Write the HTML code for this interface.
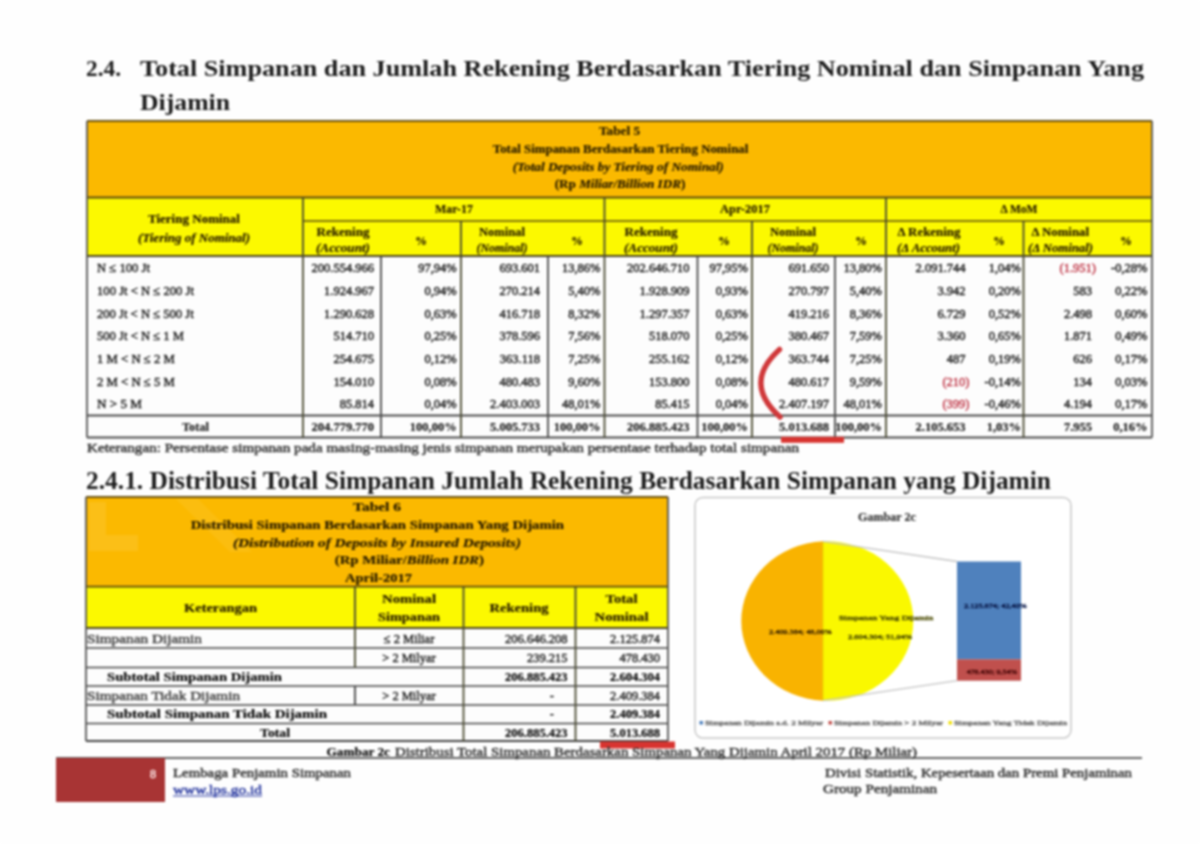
<!DOCTYPE html>
<html><head><meta charset="utf-8"><title>LPS</title>
<style>
html,body{margin:0;padding:0;background:#fff;}
body{width:1200px;height:844px;overflow:hidden;}
svg{display:block;font-family:"Liberation Serif",serif;filter:blur(0.8px);}
</style></head><body>
<svg width="1200" height="844" viewBox="0 0 1200 844">
<rect x="0" y="0" width="1200" height="844" fill="#fefefe"/>
<text x="86" y="76" font-size="24" font-weight="bold" fill="#1c1c1c" textLength="35" lengthAdjust="spacingAndGlyphs">2.4.</text>
<text x="140" y="76" font-size="24" font-weight="bold" fill="#1c1c1c" textLength="1004" lengthAdjust="spacingAndGlyphs">Total Simpanan dan Jumlah Rekening Berdasarkan Tiering Nominal dan Simpanan Yang</text>
<text x="140" y="110" font-size="24" font-weight="bold" fill="#1c1c1c" textLength="90" lengthAdjust="spacingAndGlyphs">Dijamin</text>
<rect x="87" y="121" width="1065" height="76.5" fill="#FBB900"/>
<rect x="87" y="197.5" width="1065" height="58.5" fill="#FCF900"/>
<rect x="87" y="256" width="1065" height="181.5" fill="#fdfdfd"/>
<text x="619.5" y="134.8" font-size="12" font-weight="bold" fill="#261a00" text-anchor="middle" textLength="41" lengthAdjust="spacingAndGlyphs" stroke="#261a00" stroke-width="0.2">Tabel 5</text>
<text x="492.8" y="153" font-size="12" font-weight="bold" fill="#261a00" textLength="255.5" lengthAdjust="spacingAndGlyphs" stroke="#261a00" stroke-width="0.2">Total Simpanan Berdasarkan Tiering Nominal</text>
<text x="512.7" y="170.5" font-size="12" font-weight="bold" font-style="italic" fill="#261a00" textLength="211.1" lengthAdjust="spacingAndGlyphs" stroke="#261a00" stroke-width="0.2">(Total Deposits by Tiering of Nominal)</text>
<text x="554.7" y="187.5" font-size="12" font-weight="bold" fill="#261a00" textLength="130.6" lengthAdjust="spacingAndGlyphs" stroke="#261a00" stroke-width="0.2">(Rp <tspan font-style="italic">Miliar/Billion IDR</tspan>)</text>
<text x="148" y="223" font-size="12" font-weight="bold" fill="#261a00" textLength="92" lengthAdjust="spacingAndGlyphs" stroke="#261a00" stroke-width="0.2">Tiering Nominal</text>
<text x="138" y="241.5" font-size="12" font-weight="bold" font-style="italic" fill="#261a00" textLength="112" lengthAdjust="spacingAndGlyphs" stroke="#261a00" stroke-width="0.2">(Tiering of Nominal)</text>
<text x="454" y="213.3" font-size="12" font-weight="bold" fill="#261a00" text-anchor="middle" textLength="38" lengthAdjust="spacingAndGlyphs" stroke="#261a00" stroke-width="0.2">Mar-17</text>
<text x="745" y="213.3" font-size="12" font-weight="bold" fill="#261a00" text-anchor="middle" textLength="50" lengthAdjust="spacingAndGlyphs" stroke="#261a00" stroke-width="0.2">Apr-2017</text>
<text x="1019" y="213.3" font-size="12" font-weight="bold" fill="#261a00" text-anchor="middle" textLength="37" lengthAdjust="spacingAndGlyphs" stroke="#261a00" stroke-width="0.2">Δ MoM</text>
<text x="343" y="235.8" font-size="12" font-weight="bold" fill="#261a00" text-anchor="middle" textLength="53" lengthAdjust="spacingAndGlyphs" stroke="#261a00" stroke-width="0.2">Rekening</text>
<text x="343" y="251.5" font-size="12" font-weight="bold" font-style="italic" fill="#261a00" text-anchor="middle" textLength="54" lengthAdjust="spacingAndGlyphs" stroke="#261a00" stroke-width="0.2">(Account)</text>
<text x="421" y="244.5" font-size="12" font-weight="bold" fill="#261a00" text-anchor="middle" stroke="#261a00" stroke-width="0.2">%</text>
<text x="502" y="235.8" font-size="12" font-weight="bold" fill="#261a00" text-anchor="middle" textLength="46" lengthAdjust="spacingAndGlyphs" stroke="#261a00" stroke-width="0.2">Nominal</text>
<text x="502" y="251.5" font-size="12" font-weight="bold" font-style="italic" fill="#261a00" text-anchor="middle" textLength="51" lengthAdjust="spacingAndGlyphs" stroke="#261a00" stroke-width="0.2">(Nominal)</text>
<text x="577" y="244.5" font-size="12" font-weight="bold" fill="#261a00" text-anchor="middle" stroke="#261a00" stroke-width="0.2">%</text>
<text x="651" y="235.8" font-size="12" font-weight="bold" fill="#261a00" text-anchor="middle" textLength="53" lengthAdjust="spacingAndGlyphs" stroke="#261a00" stroke-width="0.2">Rekening</text>
<text x="651" y="251.5" font-size="12" font-weight="bold" font-style="italic" fill="#261a00" text-anchor="middle" textLength="54" lengthAdjust="spacingAndGlyphs" stroke="#261a00" stroke-width="0.2">(Account)</text>
<text x="724" y="244.5" font-size="12" font-weight="bold" fill="#261a00" text-anchor="middle" stroke="#261a00" stroke-width="0.2">%</text>
<text x="793" y="235.8" font-size="12" font-weight="bold" fill="#261a00" text-anchor="middle" textLength="46" lengthAdjust="spacingAndGlyphs" stroke="#261a00" stroke-width="0.2">Nominal</text>
<text x="793" y="251.5" font-size="12" font-weight="bold" font-style="italic" fill="#261a00" text-anchor="middle" textLength="51" lengthAdjust="spacingAndGlyphs" stroke="#261a00" stroke-width="0.2">(Nominal)</text>
<text x="861" y="244.5" font-size="12" font-weight="bold" fill="#261a00" text-anchor="middle" stroke="#261a00" stroke-width="0.2">%</text>
<text x="897.5" y="235.8" font-size="12" font-weight="bold" fill="#261a00" textLength="63.0" lengthAdjust="spacingAndGlyphs" stroke="#261a00" stroke-width="0.2">Δ Rekening</text>
<text x="897" y="251.5" font-size="12" font-weight="bold" font-style="italic" fill="#261a00" textLength="63" lengthAdjust="spacingAndGlyphs" stroke="#261a00" stroke-width="0.2">(Δ Account)</text>
<text x="999" y="244.5" font-size="12" font-weight="bold" fill="#261a00" text-anchor="middle" stroke="#261a00" stroke-width="0.2">%</text>
<text x="1031.5" y="235.8" font-size="12" font-weight="bold" fill="#261a00" textLength="57.5" lengthAdjust="spacingAndGlyphs" stroke="#261a00" stroke-width="0.2">Δ Nominal</text>
<text x="1028" y="251.5" font-size="12" font-weight="bold" font-style="italic" fill="#261a00" textLength="65" lengthAdjust="spacingAndGlyphs" stroke="#261a00" stroke-width="0.2">(Δ Nominal)</text>
<text x="1126" y="244.5" font-size="12" font-weight="bold" fill="#261a00" text-anchor="middle" stroke="#261a00" stroke-width="0.2">%</text>
<text x="97" y="272.3" font-size="12.5" fill="#262626" textLength="53" lengthAdjust="spacingAndGlyphs" stroke="#262626" stroke-width="0.45">N ≤ 100 Jt</text>
<text x="97" y="294.97" font-size="12.5" fill="#262626" textLength="97" lengthAdjust="spacingAndGlyphs" stroke="#262626" stroke-width="0.45">100 Jt &lt; N ≤ 200 Jt</text>
<text x="97" y="317.64" font-size="12.5" fill="#262626" textLength="96.7" lengthAdjust="spacingAndGlyphs" stroke="#262626" stroke-width="0.45">200 Jt &lt; N ≤ 500 Jt</text>
<text x="97" y="340.31" font-size="12.5" fill="#262626" textLength="87" lengthAdjust="spacingAndGlyphs" stroke="#262626" stroke-width="0.45">500 Jt &lt; N ≤ 1 M</text>
<text x="97" y="362.98" font-size="12.5" fill="#262626" textLength="77.8" lengthAdjust="spacingAndGlyphs" stroke="#262626" stroke-width="0.45">1 M &lt; N ≤ 2 M</text>
<text x="97" y="385.65000000000003" font-size="12.5" fill="#262626" textLength="77.8" lengthAdjust="spacingAndGlyphs" stroke="#262626" stroke-width="0.45">2 M &lt; N ≤ 5 M</text>
<text x="97" y="408.32000000000005" font-size="12.5" fill="#262626" textLength="45" lengthAdjust="spacingAndGlyphs" stroke="#262626" stroke-width="0.45">N &gt; 5 M</text>
<text x="374" y="272.3" font-size="12.5" fill="#1c1c1c" text-anchor="end" stroke="#1c1c1c" stroke-width="0.45">200.554.966</text>
<text x="374" y="294.97" font-size="12.5" fill="#1c1c1c" text-anchor="end" stroke="#1c1c1c" stroke-width="0.45">1.924.967</text>
<text x="374" y="317.64" font-size="12.5" fill="#1c1c1c" text-anchor="end" stroke="#1c1c1c" stroke-width="0.45">1.290.628</text>
<text x="374" y="340.31" font-size="12.5" fill="#1c1c1c" text-anchor="end" stroke="#1c1c1c" stroke-width="0.45">514.710</text>
<text x="374" y="362.98" font-size="12.5" fill="#1c1c1c" text-anchor="end" stroke="#1c1c1c" stroke-width="0.45">254.675</text>
<text x="374" y="385.65000000000003" font-size="12.5" fill="#1c1c1c" text-anchor="end" stroke="#1c1c1c" stroke-width="0.45">154.010</text>
<text x="374" y="408.32000000000005" font-size="12.5" fill="#1c1c1c" text-anchor="end" stroke="#1c1c1c" stroke-width="0.45">85.814</text>
<text x="374" y="430.8" font-size="12.5" font-weight="bold" fill="#1e1e1e" text-anchor="end" stroke="#1e1e1e" stroke-width="0.2">204.779.770</text>
<text x="456.7" y="272.3" font-size="12.5" fill="#1c1c1c" text-anchor="end" stroke="#1c1c1c" stroke-width="0.45">97,94%</text>
<text x="456.7" y="294.97" font-size="12.5" fill="#1c1c1c" text-anchor="end" stroke="#1c1c1c" stroke-width="0.45">0,94%</text>
<text x="456.7" y="317.64" font-size="12.5" fill="#1c1c1c" text-anchor="end" stroke="#1c1c1c" stroke-width="0.45">0,63%</text>
<text x="456.7" y="340.31" font-size="12.5" fill="#1c1c1c" text-anchor="end" stroke="#1c1c1c" stroke-width="0.45">0,25%</text>
<text x="456.7" y="362.98" font-size="12.5" fill="#1c1c1c" text-anchor="end" stroke="#1c1c1c" stroke-width="0.45">0,12%</text>
<text x="456.7" y="385.65000000000003" font-size="12.5" fill="#1c1c1c" text-anchor="end" stroke="#1c1c1c" stroke-width="0.45">0,08%</text>
<text x="456.7" y="408.32000000000005" font-size="12.5" fill="#1c1c1c" text-anchor="end" stroke="#1c1c1c" stroke-width="0.45">0,04%</text>
<text x="456.7" y="430.8" font-size="12.5" font-weight="bold" fill="#1e1e1e" text-anchor="end" stroke="#1e1e1e" stroke-width="0.2">100,00%</text>
<text x="540" y="272.3" font-size="12.5" fill="#1c1c1c" text-anchor="end" stroke="#1c1c1c" stroke-width="0.45">693.601</text>
<text x="540" y="294.97" font-size="12.5" fill="#1c1c1c" text-anchor="end" stroke="#1c1c1c" stroke-width="0.45">270.214</text>
<text x="540" y="317.64" font-size="12.5" fill="#1c1c1c" text-anchor="end" stroke="#1c1c1c" stroke-width="0.45">416.718</text>
<text x="540" y="340.31" font-size="12.5" fill="#1c1c1c" text-anchor="end" stroke="#1c1c1c" stroke-width="0.45">378.596</text>
<text x="540" y="362.98" font-size="12.5" fill="#1c1c1c" text-anchor="end" stroke="#1c1c1c" stroke-width="0.45">363.118</text>
<text x="540" y="385.65000000000003" font-size="12.5" fill="#1c1c1c" text-anchor="end" stroke="#1c1c1c" stroke-width="0.45">480.483</text>
<text x="540" y="408.32000000000005" font-size="12.5" fill="#1c1c1c" text-anchor="end" stroke="#1c1c1c" stroke-width="0.45">2.403.003</text>
<text x="540" y="430.8" font-size="12.5" font-weight="bold" fill="#1e1e1e" text-anchor="end" stroke="#1e1e1e" stroke-width="0.2">5.005.733</text>
<text x="600.5" y="272.3" font-size="12.5" fill="#1c1c1c" text-anchor="end" stroke="#1c1c1c" stroke-width="0.45">13,86%</text>
<text x="600.5" y="294.97" font-size="12.5" fill="#1c1c1c" text-anchor="end" stroke="#1c1c1c" stroke-width="0.45">5,40%</text>
<text x="600.5" y="317.64" font-size="12.5" fill="#1c1c1c" text-anchor="end" stroke="#1c1c1c" stroke-width="0.45">8,32%</text>
<text x="600.5" y="340.31" font-size="12.5" fill="#1c1c1c" text-anchor="end" stroke="#1c1c1c" stroke-width="0.45">7,56%</text>
<text x="600.5" y="362.98" font-size="12.5" fill="#1c1c1c" text-anchor="end" stroke="#1c1c1c" stroke-width="0.45">7,25%</text>
<text x="600.5" y="385.65000000000003" font-size="12.5" fill="#1c1c1c" text-anchor="end" stroke="#1c1c1c" stroke-width="0.45">9,60%</text>
<text x="600.5" y="408.32000000000005" font-size="12.5" fill="#1c1c1c" text-anchor="end" stroke="#1c1c1c" stroke-width="0.45">48,01%</text>
<text x="600.5" y="430.8" font-size="12.5" font-weight="bold" fill="#1e1e1e" text-anchor="end" stroke="#1e1e1e" stroke-width="0.2">100,00%</text>
<text x="689.5" y="272.3" font-size="12.5" fill="#1c1c1c" text-anchor="end" stroke="#1c1c1c" stroke-width="0.45">202.646.710</text>
<text x="689.5" y="294.97" font-size="12.5" fill="#1c1c1c" text-anchor="end" stroke="#1c1c1c" stroke-width="0.45">1.928.909</text>
<text x="689.5" y="317.64" font-size="12.5" fill="#1c1c1c" text-anchor="end" stroke="#1c1c1c" stroke-width="0.45">1.297.357</text>
<text x="689.5" y="340.31" font-size="12.5" fill="#1c1c1c" text-anchor="end" stroke="#1c1c1c" stroke-width="0.45">518.070</text>
<text x="689.5" y="362.98" font-size="12.5" fill="#1c1c1c" text-anchor="end" stroke="#1c1c1c" stroke-width="0.45">255.162</text>
<text x="689.5" y="385.65000000000003" font-size="12.5" fill="#1c1c1c" text-anchor="end" stroke="#1c1c1c" stroke-width="0.45">153.800</text>
<text x="689.5" y="408.32000000000005" font-size="12.5" fill="#1c1c1c" text-anchor="end" stroke="#1c1c1c" stroke-width="0.45">85.415</text>
<text x="689.5" y="430.8" font-size="12.5" font-weight="bold" fill="#1e1e1e" text-anchor="end" stroke="#1e1e1e" stroke-width="0.2">206.885.423</text>
<text x="748" y="272.3" font-size="12.5" fill="#1c1c1c" text-anchor="end" stroke="#1c1c1c" stroke-width="0.45">97,95%</text>
<text x="748" y="294.97" font-size="12.5" fill="#1c1c1c" text-anchor="end" stroke="#1c1c1c" stroke-width="0.45">0,93%</text>
<text x="748" y="317.64" font-size="12.5" fill="#1c1c1c" text-anchor="end" stroke="#1c1c1c" stroke-width="0.45">0,63%</text>
<text x="748" y="340.31" font-size="12.5" fill="#1c1c1c" text-anchor="end" stroke="#1c1c1c" stroke-width="0.45">0,25%</text>
<text x="748" y="362.98" font-size="12.5" fill="#1c1c1c" text-anchor="end" stroke="#1c1c1c" stroke-width="0.45">0,12%</text>
<text x="748" y="385.65000000000003" font-size="12.5" fill="#1c1c1c" text-anchor="end" stroke="#1c1c1c" stroke-width="0.45">0,08%</text>
<text x="748" y="408.32000000000005" font-size="12.5" fill="#1c1c1c" text-anchor="end" stroke="#1c1c1c" stroke-width="0.45">0,04%</text>
<text x="748" y="430.8" font-size="12.5" font-weight="bold" fill="#1e1e1e" text-anchor="end" stroke="#1e1e1e" stroke-width="0.2">100,00%</text>
<text x="829" y="272.3" font-size="12.5" fill="#1c1c1c" text-anchor="end" stroke="#1c1c1c" stroke-width="0.45">691.650</text>
<text x="829" y="294.97" font-size="12.5" fill="#1c1c1c" text-anchor="end" stroke="#1c1c1c" stroke-width="0.45">270.797</text>
<text x="829" y="317.64" font-size="12.5" fill="#1c1c1c" text-anchor="end" stroke="#1c1c1c" stroke-width="0.45">419.216</text>
<text x="829" y="340.31" font-size="12.5" fill="#1c1c1c" text-anchor="end" stroke="#1c1c1c" stroke-width="0.45">380.467</text>
<text x="829" y="362.98" font-size="12.5" fill="#1c1c1c" text-anchor="end" stroke="#1c1c1c" stroke-width="0.45">363.744</text>
<text x="829" y="385.65000000000003" font-size="12.5" fill="#1c1c1c" text-anchor="end" stroke="#1c1c1c" stroke-width="0.45">480.617</text>
<text x="829" y="408.32000000000005" font-size="12.5" fill="#1c1c1c" text-anchor="end" stroke="#1c1c1c" stroke-width="0.45">2.407.197</text>
<text x="829" y="430.8" font-size="12.5" font-weight="bold" fill="#1e1e1e" text-anchor="end" stroke="#1e1e1e" stroke-width="0.2">5.013.688</text>
<text x="882" y="272.3" font-size="12.5" fill="#1c1c1c" text-anchor="end" stroke="#1c1c1c" stroke-width="0.45">13,80%</text>
<text x="882" y="294.97" font-size="12.5" fill="#1c1c1c" text-anchor="end" stroke="#1c1c1c" stroke-width="0.45">5,40%</text>
<text x="882" y="317.64" font-size="12.5" fill="#1c1c1c" text-anchor="end" stroke="#1c1c1c" stroke-width="0.45">8,36%</text>
<text x="882" y="340.31" font-size="12.5" fill="#1c1c1c" text-anchor="end" stroke="#1c1c1c" stroke-width="0.45">7,59%</text>
<text x="882" y="362.98" font-size="12.5" fill="#1c1c1c" text-anchor="end" stroke="#1c1c1c" stroke-width="0.45">7,25%</text>
<text x="882" y="385.65000000000003" font-size="12.5" fill="#1c1c1c" text-anchor="end" stroke="#1c1c1c" stroke-width="0.45">9,59%</text>
<text x="882" y="408.32000000000005" font-size="12.5" fill="#1c1c1c" text-anchor="end" stroke="#1c1c1c" stroke-width="0.45">48,01%</text>
<text x="882" y="430.8" font-size="12.5" font-weight="bold" fill="#1e1e1e" text-anchor="end" stroke="#1e1e1e" stroke-width="0.2">100,00%</text>
<text x="965.5" y="272.3" font-size="12.5" fill="#1c1c1c" text-anchor="end" stroke="#1c1c1c" stroke-width="0.45">2.091.744</text>
<text x="965.5" y="294.97" font-size="12.5" fill="#1c1c1c" text-anchor="end" stroke="#1c1c1c" stroke-width="0.45">3.942</text>
<text x="965.5" y="317.64" font-size="12.5" fill="#1c1c1c" text-anchor="end" stroke="#1c1c1c" stroke-width="0.45">6.729</text>
<text x="965.5" y="340.31" font-size="12.5" fill="#1c1c1c" text-anchor="end" stroke="#1c1c1c" stroke-width="0.45">3.360</text>
<text x="965.5" y="362.98" font-size="12.5" fill="#1c1c1c" text-anchor="end" stroke="#1c1c1c" stroke-width="0.45">487</text>
<text x="969.5" y="385.65000000000003" font-size="12.5" fill="#c03a4a" text-anchor="end" stroke="#c03a4a" stroke-width="0.45">(210)</text>
<text x="969.5" y="408.32000000000005" font-size="12.5" fill="#c03a4a" text-anchor="end" stroke="#c03a4a" stroke-width="0.45">(399)</text>
<text x="965.5" y="430.8" font-size="12.5" font-weight="bold" fill="#1e1e1e" text-anchor="end" stroke="#1e1e1e" stroke-width="0.2">2.105.653</text>
<text x="1021" y="272.3" font-size="12.5" fill="#1c1c1c" text-anchor="end" stroke="#1c1c1c" stroke-width="0.45">1,04%</text>
<text x="1021" y="294.97" font-size="12.5" fill="#1c1c1c" text-anchor="end" stroke="#1c1c1c" stroke-width="0.45">0,20%</text>
<text x="1021" y="317.64" font-size="12.5" fill="#1c1c1c" text-anchor="end" stroke="#1c1c1c" stroke-width="0.45">0,52%</text>
<text x="1021" y="340.31" font-size="12.5" fill="#1c1c1c" text-anchor="end" stroke="#1c1c1c" stroke-width="0.45">0,65%</text>
<text x="1021" y="362.98" font-size="12.5" fill="#1c1c1c" text-anchor="end" stroke="#1c1c1c" stroke-width="0.45">0,19%</text>
<text x="1021" y="385.65000000000003" font-size="12.5" fill="#1c1c1c" text-anchor="end" stroke="#1c1c1c" stroke-width="0.45">-0,14%</text>
<text x="1021" y="408.32000000000005" font-size="12.5" fill="#1c1c1c" text-anchor="end" stroke="#1c1c1c" stroke-width="0.45">-0,46%</text>
<text x="1021" y="430.8" font-size="12.5" font-weight="bold" fill="#1e1e1e" text-anchor="end" stroke="#1e1e1e" stroke-width="0.2">1,03%</text>
<text x="1096" y="272.3" font-size="12.5" fill="#c03a4a" text-anchor="end" stroke="#c03a4a" stroke-width="0.45">(1.951)</text>
<text x="1092" y="294.97" font-size="12.5" fill="#1c1c1c" text-anchor="end" stroke="#1c1c1c" stroke-width="0.45">583</text>
<text x="1092" y="317.64" font-size="12.5" fill="#1c1c1c" text-anchor="end" stroke="#1c1c1c" stroke-width="0.45">2.498</text>
<text x="1092" y="340.31" font-size="12.5" fill="#1c1c1c" text-anchor="end" stroke="#1c1c1c" stroke-width="0.45">1.871</text>
<text x="1092" y="362.98" font-size="12.5" fill="#1c1c1c" text-anchor="end" stroke="#1c1c1c" stroke-width="0.45">626</text>
<text x="1092" y="385.65000000000003" font-size="12.5" fill="#1c1c1c" text-anchor="end" stroke="#1c1c1c" stroke-width="0.45">134</text>
<text x="1092" y="408.32000000000005" font-size="12.5" fill="#1c1c1c" text-anchor="end" stroke="#1c1c1c" stroke-width="0.45">4.194</text>
<text x="1092" y="430.8" font-size="12.5" font-weight="bold" fill="#1e1e1e" text-anchor="end" stroke="#1e1e1e" stroke-width="0.2">7.955</text>
<text x="1147.5" y="272.3" font-size="12.5" fill="#1c1c1c" text-anchor="end" stroke="#1c1c1c" stroke-width="0.45">-0,28%</text>
<text x="1147.5" y="294.97" font-size="12.5" fill="#1c1c1c" text-anchor="end" stroke="#1c1c1c" stroke-width="0.45">0,22%</text>
<text x="1147.5" y="317.64" font-size="12.5" fill="#1c1c1c" text-anchor="end" stroke="#1c1c1c" stroke-width="0.45">0,60%</text>
<text x="1147.5" y="340.31" font-size="12.5" fill="#1c1c1c" text-anchor="end" stroke="#1c1c1c" stroke-width="0.45">0,49%</text>
<text x="1147.5" y="362.98" font-size="12.5" fill="#1c1c1c" text-anchor="end" stroke="#1c1c1c" stroke-width="0.45">0,17%</text>
<text x="1147.5" y="385.65000000000003" font-size="12.5" fill="#1c1c1c" text-anchor="end" stroke="#1c1c1c" stroke-width="0.45">0,03%</text>
<text x="1147.5" y="408.32000000000005" font-size="12.5" fill="#1c1c1c" text-anchor="end" stroke="#1c1c1c" stroke-width="0.45">0,17%</text>
<text x="1147.5" y="430.8" font-size="12.5" font-weight="bold" fill="#1e1e1e" text-anchor="end" stroke="#1e1e1e" stroke-width="0.2">0,16%</text>
<text x="182" y="430.8" font-size="12.5" font-weight="bold" fill="#1e1e1e" textLength="27" lengthAdjust="spacingAndGlyphs" stroke="#1e1e1e" stroke-width="0.2">Total</text>
<line x1="87" y1="121" x2="1152" y2="121" stroke="#6b5212" stroke-width="2"/>
<line x1="87" y1="197.5" x2="1152" y2="197.5" stroke="#5a4a10" stroke-width="1.8"/>
<line x1="303" y1="221" x2="1152" y2="221" stroke="#5a4a10" stroke-width="1.6"/>
<line x1="87" y1="256" x2="1152" y2="256" stroke="#4a4220" stroke-width="1.8"/>
<line x1="87" y1="415.5" x2="1152" y2="415.5" stroke="#4a4a4a" stroke-width="1.8"/>
<line x1="87" y1="437.5" x2="1152" y2="437.5" stroke="#4a4a4a" stroke-width="1.8"/>
<line x1="87" y1="121" x2="87" y2="437.5" stroke="#555" stroke-width="1.8"/>
<line x1="1152" y1="121" x2="1152" y2="437.5" stroke="#555" stroke-width="1.8"/>
<line x1="303" y1="197.5" x2="303" y2="437.5" stroke="#4a4a30" stroke-width="1.8"/>
<line x1="604.5" y1="197.5" x2="604.5" y2="437.5" stroke="#4a4a30" stroke-width="1.8"/>
<line x1="886" y1="197.5" x2="886" y2="437.5" stroke="#4a4a30" stroke-width="1.8"/>
<line x1="461" y1="221" x2="461" y2="437.5" stroke="#4a4a30" stroke-width="1.8"/>
<line x1="752" y1="221" x2="752" y2="437.5" stroke="#4a4a30" stroke-width="1.8"/>
<line x1="1023.5" y1="221" x2="1023.5" y2="437.5" stroke="#4a4a30" stroke-width="1.8"/>
<line x1="381" y1="256" x2="381" y2="437.5" stroke="#4a4a4a" stroke-width="1.8"/>
<line x1="548" y1="256" x2="548" y2="437.5" stroke="#4a4a4a" stroke-width="1.8"/>
<line x1="697.5" y1="256" x2="697.5" y2="437.5" stroke="#4a4a4a" stroke-width="1.8"/>
<line x1="835" y1="256" x2="835" y2="437.5" stroke="#4a4a4a" stroke-width="1.8"/>
<text x="87" y="452" font-size="12" fill="#333" textLength="712" lengthAdjust="spacingAndGlyphs" stroke="#333" stroke-width="0.45">Keterangan:  Persentase simpanan pada masing-masing jenis simpanan merupakan persentase terhadap total simpanan</text>
<path d="M779.5 349.5 Q742 383 780 417" fill="none" stroke="#d0383a" stroke-width="5.5" stroke-linecap="round"/>
<rect x="781" y="436.8" width="63" height="6" fill="#d83430"/>
<text x="86" y="489" font-size="25" font-weight="bold" fill="#1c1c1c" textLength="965" lengthAdjust="spacingAndGlyphs">2.4.1. Distribusi Total Simpanan Jumlah Rekening Berdasarkan Simpanan yang Dijamin</text>
<rect x="86" y="497" width="582" height="89.60000000000002" fill="#FBB900"/>
<rect x="86" y="586.6" width="582" height="41.39999999999998" fill="#FCF900"/>
<rect x="86" y="628" width="582" height="113" fill="#fdfdfd"/>
<path d="M89 502 H106 V535 H138 V551 H89 Z" fill="#fff" fill-opacity="0.09"/>
<path d="M176 499 H198 L252 552 H230 Z" fill="#fff" fill-opacity="0.06"/>
<text x="377" y="510.5" font-size="12.5" font-weight="bold" fill="#261a00" text-anchor="middle" textLength="48" lengthAdjust="spacingAndGlyphs" stroke="#261a00" stroke-width="0.2">Tabel 6</text>
<text x="190.7" y="529" font-size="12.5" font-weight="bold" fill="#261a00" textLength="373.3" lengthAdjust="spacingAndGlyphs" stroke="#261a00" stroke-width="0.2">Distribusi Simpanan Berdasarkan Simpanan Yang Dijamin</text>
<text x="233" y="547" font-size="12.5" font-weight="bold" font-style="italic" fill="#261a00" textLength="288" lengthAdjust="spacingAndGlyphs" stroke="#261a00" stroke-width="0.2">(Distribution of Deposits by Insured Deposits)</text>
<text x="334.7" y="564" font-size="12.5" font-weight="bold" fill="#261a00" textLength="149.3" lengthAdjust="spacingAndGlyphs" stroke="#261a00" stroke-width="0.2">(Rp Miliar/<tspan font-style="italic">Billion IDR</tspan>)</text>
<text x="345" y="582" font-size="12.5" font-weight="bold" fill="#261a00" textLength="67" lengthAdjust="spacingAndGlyphs" stroke="#261a00" stroke-width="0.2">April-2017</text>
<text x="220.5" y="611.5" font-size="12.5" font-weight="bold" fill="#261a00" text-anchor="middle" textLength="73" lengthAdjust="spacingAndGlyphs" stroke="#261a00" stroke-width="0.2">Keterangan</text>
<text x="409" y="603" font-size="12.5" font-weight="bold" fill="#261a00" text-anchor="middle" textLength="54" lengthAdjust="spacingAndGlyphs" stroke="#261a00" stroke-width="0.2">Nominal</text>
<text x="409" y="620.5" font-size="12.5" font-weight="bold" fill="#261a00" text-anchor="middle" textLength="62" lengthAdjust="spacingAndGlyphs" stroke="#261a00" stroke-width="0.2">Simpanan</text>
<text x="519" y="611.5" font-size="12.5" font-weight="bold" fill="#261a00" text-anchor="middle" textLength="59" lengthAdjust="spacingAndGlyphs" stroke="#261a00" stroke-width="0.2">Rekening</text>
<text x="621.5" y="603" font-size="12.5" font-weight="bold" fill="#261a00" text-anchor="middle" textLength="32" lengthAdjust="spacingAndGlyphs" stroke="#261a00" stroke-width="0.2">Total</text>
<text x="621.5" y="620.5" font-size="12.5" font-weight="bold" fill="#261a00" text-anchor="middle" textLength="54" lengthAdjust="spacingAndGlyphs" stroke="#261a00" stroke-width="0.2">Nominal</text>
<text x="87" y="642.5" font-size="12.5" fill="#444" textLength="115" lengthAdjust="spacingAndGlyphs" stroke="#444" stroke-width="0.45">Simpanan Dijamin</text>
<text x="409" y="642.5" font-size="12.5" fill="#262626" text-anchor="middle" stroke="#262626" stroke-width="0.45">≤ 2 Miliar</text>
<text x="567.5" y="642.5" font-size="12.5" fill="#262626" text-anchor="end" stroke="#262626" stroke-width="0.45">206.646.208</text>
<text x="660" y="642.5" font-size="12.5" fill="#262626" text-anchor="end" stroke="#262626" stroke-width="0.45">2.125.874</text>
<text x="409" y="661.5" font-size="12.5" fill="#262626" text-anchor="middle" stroke="#262626" stroke-width="0.45">&gt; 2 Milyar</text>
<text x="567.5" y="661.5" font-size="12.5" fill="#262626" text-anchor="end" stroke="#262626" stroke-width="0.45">239.215</text>
<text x="660" y="661.5" font-size="12.5" fill="#262626" text-anchor="end" stroke="#262626" stroke-width="0.45">478.430</text>
<text x="107" y="680.5" font-size="12.5" font-weight="bold" textLength="175" lengthAdjust="spacingAndGlyphs" stroke="#222" stroke-width="0.2">Subtotal Simpanan Dijamin</text>
<text x="567.5" y="680.5" font-size="12.5" font-weight="bold" text-anchor="end" stroke="#222" stroke-width="0.2">206.885.423</text>
<text x="660" y="680.5" font-size="12.5" font-weight="bold" text-anchor="end" stroke="#222" stroke-width="0.2">2.604.304</text>
<text x="87" y="699.5" font-size="12.5" fill="#444" textLength="153" lengthAdjust="spacingAndGlyphs" stroke="#444" stroke-width="0.45">Simpanan Tidak Dijamin</text>
<text x="409" y="699.5" font-size="12.5" fill="#262626" text-anchor="middle" stroke="#262626" stroke-width="0.45">&gt; 2 Milyar</text>
<text x="554" y="699.5" font-size="12.5" fill="#262626" text-anchor="end" stroke="#262626" stroke-width="0.45">-</text>
<text x="660" y="699.5" font-size="12.5" fill="#262626" text-anchor="end" stroke="#262626" stroke-width="0.45">2.409.384</text>
<text x="107" y="718" font-size="12.5" font-weight="bold" textLength="220" lengthAdjust="spacingAndGlyphs" stroke="#222" stroke-width="0.2">Subtotal Simpanan  Tidak Dijamin</text>
<text x="554" y="718" font-size="12.5" font-weight="bold" text-anchor="end" stroke="#222" stroke-width="0.2">-</text>
<text x="660" y="718" font-size="12.5" font-weight="bold" text-anchor="end" stroke="#222" stroke-width="0.2">2.409.384</text>
<text x="260" y="736.5" font-size="12.5" font-weight="bold" textLength="30" lengthAdjust="spacingAndGlyphs" stroke="#222" stroke-width="0.2">Total</text>
<text x="567.5" y="736.5" font-size="12.5" font-weight="bold" text-anchor="end" stroke="#222" stroke-width="0.2">206.885.423</text>
<text x="660" y="736.5" font-size="12.5" font-weight="bold" text-anchor="end" stroke="#222" stroke-width="0.2">5.013.688</text>
<line x1="86" y1="497" x2="668" y2="497" stroke="#6b5212" stroke-width="1.8"/>
<line x1="86" y1="586.6" x2="668" y2="586.6" stroke="#5a4a10" stroke-width="1.8"/>
<line x1="86" y1="628" x2="668" y2="628" stroke="#4a4220" stroke-width="1.8"/>
<line x1="86" y1="648" x2="668" y2="648" stroke="#444" stroke-width="1.6"/>
<line x1="86" y1="667.5" x2="668" y2="667.5" stroke="#444" stroke-width="1.6"/>
<line x1="86" y1="686" x2="668" y2="686" stroke="#444" stroke-width="1.6"/>
<line x1="86" y1="705" x2="668" y2="705" stroke="#444" stroke-width="1.6"/>
<line x1="86" y1="723.5" x2="668" y2="723.5" stroke="#444" stroke-width="1.6"/>
<line x1="86" y1="741" x2="668" y2="741" stroke="#444" stroke-width="1.8"/>
<line x1="86" y1="497" x2="86" y2="741" stroke="#555" stroke-width="1.8"/>
<line x1="668" y1="497" x2="668" y2="741" stroke="#555" stroke-width="1.8"/>
<line x1="355" y1="586.6" x2="355" y2="667.5" stroke="#4a4a30" stroke-width="1.8"/>
<line x1="355" y1="686" x2="355" y2="705" stroke="#444" stroke-width="1.8"/>
<line x1="463.5" y1="586.6" x2="463.5" y2="741" stroke="#4a4a30" stroke-width="1.8"/>
<line x1="575.5" y1="586.6" x2="575.5" y2="741" stroke="#4a4a30" stroke-width="1.8"/>
<rect x="600" y="741.5" width="75" height="7" fill="#d83430"/>
<rect x="695" y="497.5" width="376" height="240.5" rx="8" ry="8" fill="#fff" stroke="#c8c8c8" stroke-width="1.5"/>
<text x="887" y="521" font-size="12" font-weight="bold" fill="#333" text-anchor="middle" textLength="58" lengthAdjust="spacingAndGlyphs" stroke="#333" stroke-width="0.2">Gambar 2c</text>
<path d="M823 541.35 A86 79.75 0 0 0 823 700.65 Z" fill="#F9B300"/>
<path d="M823 541.35 A86 79.75 0 1 1 823 700.65 Z" fill="#FAF800"/>
<line x1="823" y1="541.5" x2="823" y2="700.5" stroke="#e8d000" stroke-width="0.8"/>
<line x1="823" y1="541.3" x2="957" y2="561.5" stroke="#c4c4c4" stroke-width="1.3"/>
<line x1="823" y1="700.7" x2="957" y2="680.7" stroke="#c4c4c4" stroke-width="1.3"/>
<rect x="957" y="561.5" width="64" height="97.8" fill="#4F81BD"/>
<rect x="957" y="659.3" width="64" height="21.4" fill="#C0504D"/>
<text x="769" y="633.5" font-size="6.5" fill="#4a3000" textLength="62.5" lengthAdjust="spacingAndGlyphs" stroke="#4a3000" stroke-width="0.45">2.409.384; 48,06%</text>
<text x="838.7" y="620.3" font-size="7" fill="#4a4a00" textLength="94.6" lengthAdjust="spacingAndGlyphs" stroke="#4a4a00" stroke-width="0.45">Simpanan Yang Dijamin</text>
<text x="848" y="639" font-size="6.5" fill="#4a4a00" textLength="64" lengthAdjust="spacingAndGlyphs" stroke="#4a4a00" stroke-width="0.45">2.604.304; 51,94%</text>
<text x="964" y="607.8" font-size="6.5" fill="#0a1a4a" textLength="62.7" lengthAdjust="spacingAndGlyphs" stroke="#0a1a4a" stroke-width="0.45">2.125.874; 42,40%</text>
<text x="966.7" y="673.6" font-size="6.5" fill="#4a0a0a" textLength="50.3" lengthAdjust="spacingAndGlyphs" stroke="#4a0a0a" stroke-width="0.45">478.430; 9,54%</text>
<rect x="699.5" y="721" width="3.5" height="3.5" fill="#4F81BD"/>
<text x="705" y="725" font-size="6.5" fill="#666" textLength="118" lengthAdjust="spacingAndGlyphs" stroke="#666" stroke-width="0.45">Simpanan Dijamin s.d. 2 Milyar</text>
<rect x="828.5" y="721" width="3.5" height="3.5" fill="#C0504D"/>
<text x="834" y="725" font-size="6.5" fill="#666" textLength="109" lengthAdjust="spacingAndGlyphs" stroke="#666" stroke-width="0.45">Simpanan Dijamin &gt; 2 Milyar</text>
<rect x="948.5" y="721" width="3.5" height="3.5" fill="#F0E000"/>
<text x="954" y="725" font-size="6.5" fill="#666" textLength="113" lengthAdjust="spacingAndGlyphs" stroke="#666" stroke-width="0.45">Simpanan Yang Tidak Dijamin</text>
<text x="395" y="755.6" font-size="13" fill="#333" textLength="522" lengthAdjust="spacingAndGlyphs" stroke="#333" stroke-width="0.45">Distribusi Total Simpanan Berdasarkan Simpanan Yang  Dijamin April 2017 (Rp Miliar)</text>
<text x="326.5" y="755.6" font-size="13" font-weight="bold" textLength="63.5" lengthAdjust="spacingAndGlyphs" stroke="#222" stroke-width="0.2">Gambar 2c</text>
<line x1="56" y1="758" x2="1142" y2="758" stroke="#333" stroke-width="1.5"/>
<rect x="56" y="758" width="109" height="44" fill="#A83434"/>
<text x="156" y="777.5" font-size="12" fill="#ffecec" text-anchor="end" stroke="#ffecec" stroke-width="0.45">8</text>
<text x="173" y="777" font-size="12.5" fill="#333" textLength="178" lengthAdjust="spacingAndGlyphs" stroke="#333" stroke-width="0.45">Lembaga Penjamin Simpanan</text>
<text x="173" y="794" font-size="12.5" fill="#2a3aa0" textLength="89" lengthAdjust="spacingAndGlyphs" stroke="#2a3aa0" stroke-width="0.45">www.lps.go.id</text>
<line x1="173" y1="796" x2="262" y2="796" stroke="#2a3aa0" stroke-width="1"/>
<text x="825" y="777" font-size="12.5" fill="#333" textLength="307" lengthAdjust="spacingAndGlyphs" stroke="#333" stroke-width="0.45">Divisi Statistik, Kepesertaan dan Premi Penjaminan</text>
<text x="823" y="793" font-size="12.5" fill="#333" textLength="114" lengthAdjust="spacingAndGlyphs" stroke="#333" stroke-width="0.45">Group Penjaminan</text>
</svg>
</body></html>
